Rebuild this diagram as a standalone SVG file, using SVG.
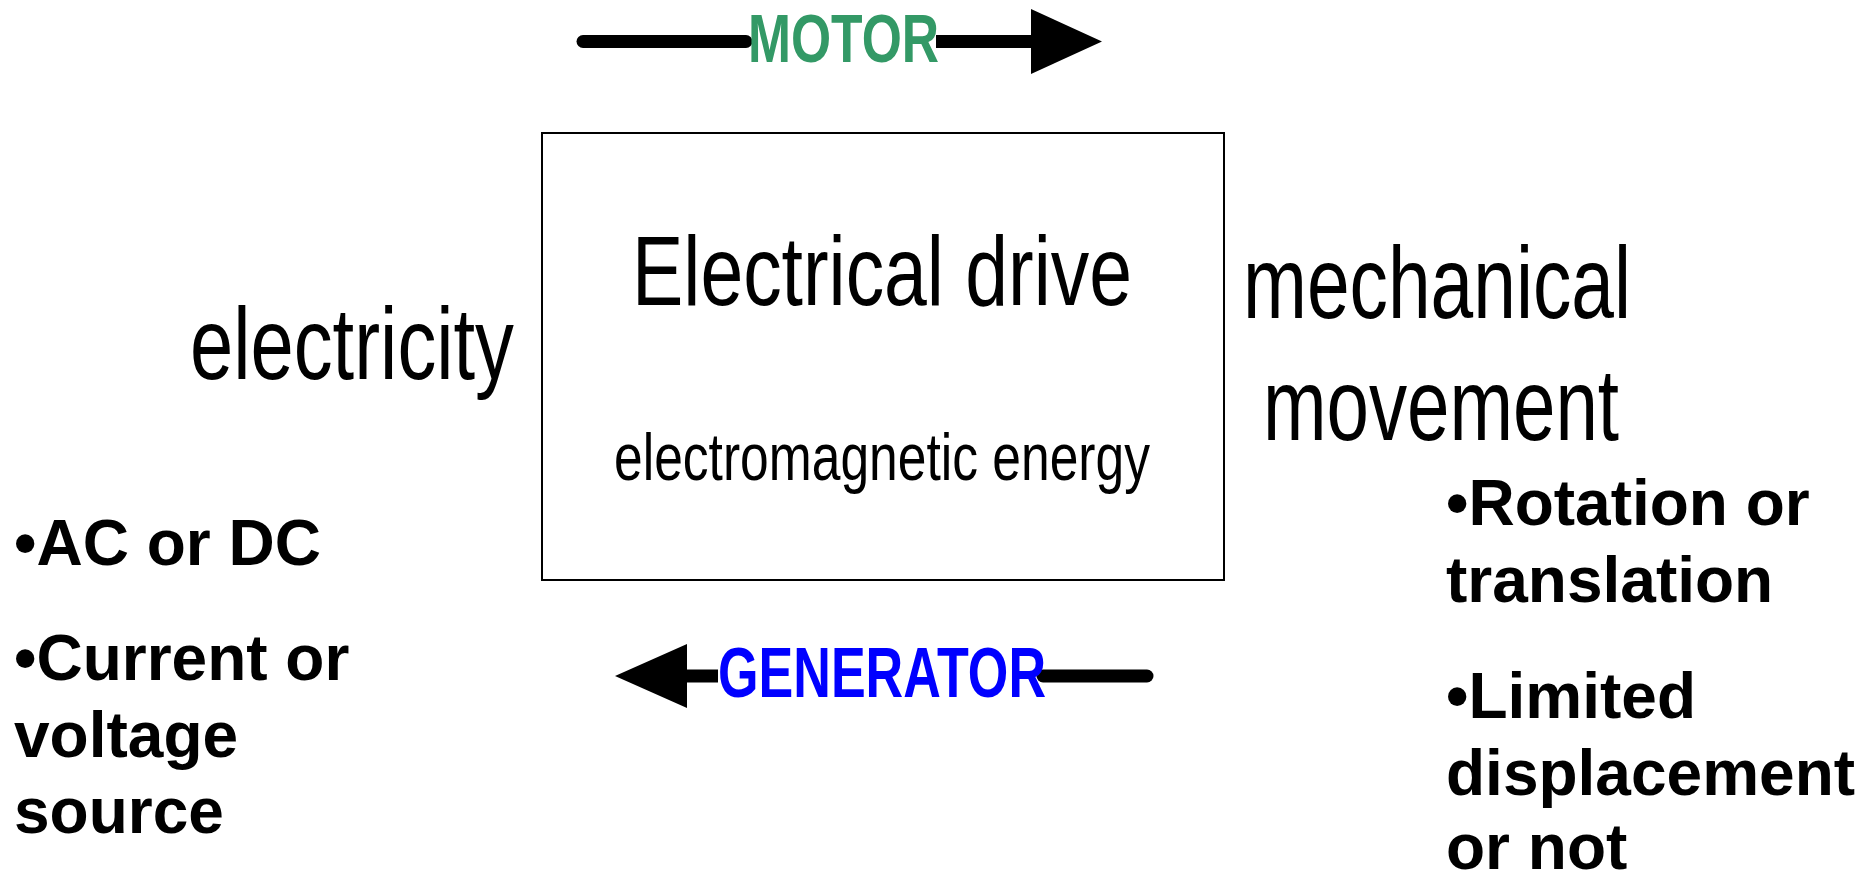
<svg xmlns="http://www.w3.org/2000/svg" width="1872" height="873" viewBox="0 0 1872 873">
<style>
.reg{font-family:"Liberation Sans",Arial,sans-serif;fill:#000}
.bold{font-family:"Liberation Sans",Arial,sans-serif;font-weight:bold;fill:#000;font-size:64px}
.shaft{stroke:#000;stroke-width:13;fill:none}
.head{fill:#000}
</style>
<rect width="1872" height="873" fill="#fff"/>
<g id="connectors">
  <g id="motor-arrow">
    <line class="shaft" x1="583" y1="41.5" x2="746" y2="41.5" stroke-linecap="round"/>
    <line class="shaft" x1="936" y1="41.5" x2="1032" y2="41.5"/>
    <polygon class="head" points="1031,9 1102,41.5 1031,74"/>
    <text class="reg" x="748" y="62" font-size="68" font-weight="bold" style="fill:#339966" textLength="191" lengthAdjust="spacingAndGlyphs">MOTOR</text>
  </g>
  <g id="generator-arrow">
    <line class="shaft" x1="686" y1="676" x2="718" y2="676"/>
    <line class="shaft" x1="1043" y1="676" x2="1147" y2="676" stroke-linecap="round"/>
    <polygon class="head" points="687,644 615,676 687,708"/>
    <text class="reg" x="718" y="697" font-size="70" font-weight="bold" style="fill:#0000ff" textLength="328" lengthAdjust="spacingAndGlyphs">GENERATOR</text>
  </g>
</g>
<g id="drive">
  <rect x="542" y="133" width="682" height="447" fill="none" stroke="#000" stroke-width="2"/>
  <text class="reg" x="632" y="305" font-size="98" textLength="500" lengthAdjust="spacingAndGlyphs">Electrical drive</text>
  <text class="reg" x="614" y="480" font-size="67" textLength="536" lengthAdjust="spacingAndGlyphs">electromagnetic energy</text>
</g>
<g id="electricity">
  <text class="reg" x="190" y="379" font-size="102" textLength="324" lengthAdjust="spacingAndGlyphs">electricity</text>
  <text class="bold" x="14" y="565">•AC or DC</text>
  <text class="bold" x="14" y="680">•Current or</text>
  <text class="bold" x="14" y="757">voltage</text>
  <text class="bold" x="14" y="833">source</text>
</g>
<g id="mechanical">
  <text class="reg" x="1243" y="318" font-size="102" textLength="388" lengthAdjust="spacingAndGlyphs">mechanical</text>
  <text class="reg" x="1263" y="440" font-size="102" textLength="356" lengthAdjust="spacingAndGlyphs">movement</text>
  <text class="bold" x="1446" y="525">•Rotation or</text>
  <text class="bold" x="1446" y="602">translation</text>
  <text class="bold" x="1446" y="718">•Limited</text>
  <text class="bold" x="1446" y="795">displacement</text>
  <text class="bold" x="1446" y="869">or not</text>
</g>
</svg>
